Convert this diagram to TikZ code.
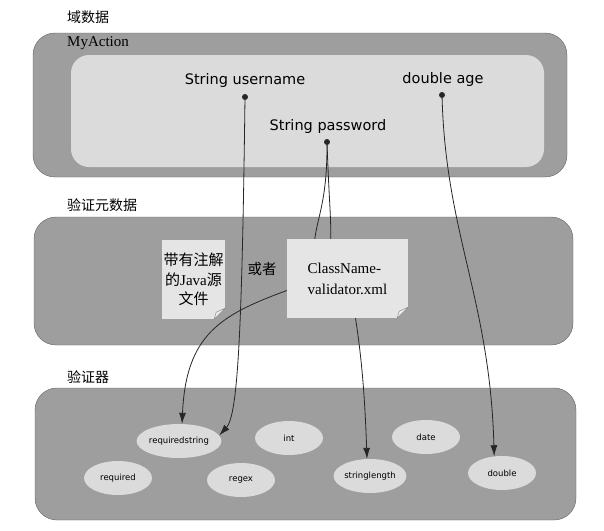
\documentclass[tikz,border=0pt]{standalone}
\usepackage{fontspec}
\setmainfont{Liberation Serif}
\newfontfamily\cjk{Noto Sans CJK SC}
\newfontfamily\fieldfont{DejaVu Sans}
\usetikzlibrary{shapes.geometric,arrows.meta}
\definecolor{regiongray}{gray}{0.62}
\definecolor{innergray}{gray}{0.86}
\definecolor{notegray}{gray}{0.90}
\tikzset{
  regionbox/.style={fill=regiongray, draw=gray!75!black, rounded corners=22pt},
  innerbox/.style={fill=innergray, rounded corners=18pt},
  title/.style={anchor=west, inner sep=0pt, font=\cjk\fontsize{14}{16}\selectfont},
  field/.style={inner sep=0pt, font=\fieldfont\fontsize{14.5}{16}\selectfont},
  fielddot/.style={circle, fill=black!85, inner sep=0pt, minimum size=6pt},
  notebox/.style={fill=notegray, inner sep=0pt, align=center},
  validator/.style={ellipse, fill=innergray, inner sep=0pt, minimum width=68pt,
    minimum height=34pt, font=\fieldfont\fontsize{8.5}{10}\selectfont},
  flow/.style={black!85, line width=0.8pt, -{Latex[length=11pt,width=7pt]}},
  link/.style={black!85, line width=0.8pt}
}
\begin{document}
\begin{tikzpicture}[x=1pt,y=-1pt]
\useasboundingbox (0,0) rectangle (604,530);
\draw[regionbox] (33,33) rectangle (567,177);
\fill[innerbox] (71,55) rectangle (544,167);
\draw[regionbox] (34,217) rectangle (573,345);
\draw[regionbox] (35,388) rectangle (576,520);
\node[title] (ttl0) at (67,17) {域数据};
\node[title] (ttl1) at (67,205) {验证元数据};
\node[title] (ttl2) at (67,377) {验证器};
\node[anchor=west, inner sep=0pt, font=\fontsize{15}{16}\selectfont] (act) at (67,43) {MyAction};
\node[field] (uname) at (245,80) {String username};
\node[field] (pwd) at (328,126) {String password};
\node[field] (age) at (443,79) {double age};
\node[fielddot] (udot) at (245,97) {};
\node[fielddot] (pdot) at (327,142) {};
\node[fielddot] (adot) at (442,95) {};
\node[notebox, minimum width=63pt, minimum height=79pt, font=\fontsize{15}{19.5}\selectfont] (jsrc) at (193.5,279.5) {{\cjk 带有注解}\\{\cjk 的}Java{\cjk 源}\\{\cjk 文件}};
\node[notebox, minimum width=121pt, minimum height=79pt, align=left, font=\fontsize{15}{21}\selectfont] (xmlfile) at (347.5,278.5) {ClassName-\\validator.xml};
\foreach \n in {jsrc,xmlfile}{
  \fill[regiongray] (\n.south east) -- ++(-11,0) -- ++(11,-11) -- cycle;
  \filldraw[fill=white!85!gray, draw=gray, line width=0.4pt] (\n.south east) ++(-11,0) -- ++(11,-11) -- ++(-9,4) -- cycle;
}
\node[inner sep=0pt, font=\cjk\fontsize{14.5}{16}\selectfont] (orr) at (262,269) {或者};
\node[validator] (rs) at (179,441) {requiredstring};
\node[validator] (int) at (289,438) {int};
\node[validator] (date) at (426,437) {date};
\node[validator] (req) at (118,478) {required};
\node[validator] (rgx) at (241,480) {regex};
\node[validator] (sl) at (370,476) {stringlength};
\node[validator] (dbl) at (502,473) {double};
\draw[flow] (udot) .. controls (242,330) and (238,415) .. (rs.8);
\draw[link] (pdot) .. controls (327,200) and (318,215) .. ([xshift=28pt]xmlfile.north west);
\draw[link] (pdot) .. controls (329,200) and (331,215) .. ([xshift=44pt]xmlfile.north west);
\draw[flow] ([yshift=-12pt]xmlfile.west) .. controls (220,315) and (186,335) .. (rs.80);
\draw[flow] ([xshift=8pt]xmlfile.south) .. controls (362,360) and (365,400) .. (sl.100);
\draw[flow] (adot) .. controls (446,235) and (490,300) .. (dbl.115);
\end{tikzpicture}
\end{document}
